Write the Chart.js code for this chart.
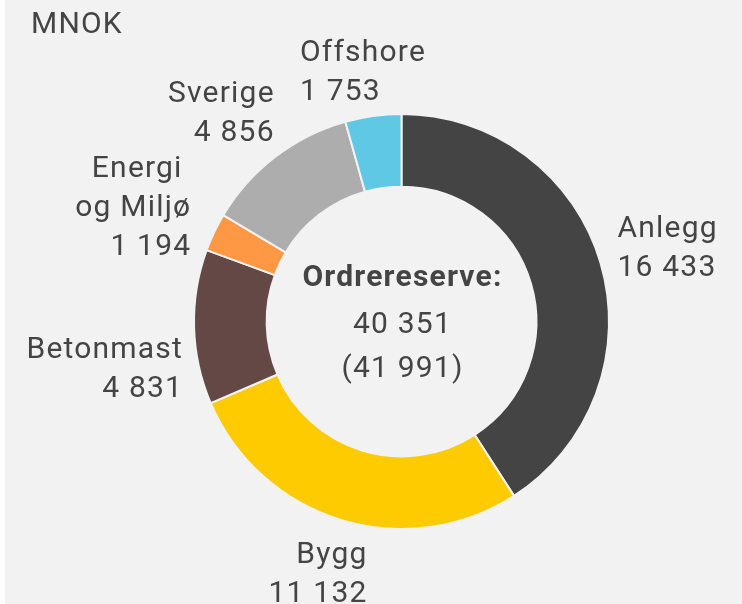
<!DOCTYPE html>
<html>
<head>
<meta charset="utf-8">
<script src="https://cdn.jsdelivr.net/npm/chart.js@4.4.1/dist/chart.umd.min.js"></script>
<style>
  html, body { margin: 0; padding: 0; background: #ffffff; }
  #wrap { position: absolute; left: 5px; top: 0; width: 737px; height: 604px; background: #f2f2f2; }
</style>
</head>
<body>
<div id="wrap"><canvas id="orderChart" width="737" height="604"></canvas></div>
<script>
// ===== Data =====
const segments = ["Anlegg", "Bygg", "Betonmast", "Energi og Miljø", "Sverige", "Offshore"];
const labelLines = [["Anlegg"], ["Bygg"], ["Betonmast"], ["Energi ", "og Miljø"], ["Sverige"], ["Offshore"]];
const backlog = [16433, 11132, 4831, 1194, 4856, 1753];
const backlogTotal = 40351;
const backlogPrev = 41991;
const unitLabel = "MNOK";
const centerTitle = "Ordrereserve:";

// ===== Styling =====
const sliceColors = ['#444444', '#fecb00', '#634846', '#ff9844', '#adadad', '#5ec8e5'];
const bgColor = '#f2f2f2';
const textColor = '#444444';
const fontFamily = "Roboto, 'Noto Sans', sans-serif";
const spacing = '1.2px';

// label placement relative to the outer mid-point of each slice: [dx, dy of first baseline, align]
const labelNudge = [
    [16, -26, 'left'],
    [27, 42, 'right'],
    [-10, 31, 'right'],
    [-22, -55, 'right'],
    [0, -54, 'right'],
    [-73, -54, 'left']
];
const lineGap = 39;

const fmt = (n) => n.toString().replace(/\B(?=(\d{3})+(?!\d))/g, ' ');

// ===== Plugin: labels, centre text, unit =====
const textPlugin = {
    id: 'textPlugin',
    afterDatasetsDraw(chart) {
        const ctx = chart.ctx;
        const meta = chart.getDatasetMeta(0);
        ctx.save();
        ctx.fillStyle = textColor;
        ctx.textBaseline = 'alphabetic';
        ctx.letterSpacing = spacing;
        ctx.font = `30px ${fontFamily}`;

        meta.data.forEach((arc, i) => {
            const p = arc.getProps(['x', 'y', 'startAngle', 'endAngle', 'outerRadius'], true);
            const mid = (p.startAngle + p.endAngle) / 2;
            const r = p.outerRadius + 1;
            const ax = p.x + Math.cos(mid) * r;
            const ay = p.y + Math.sin(mid) * r;
            const [dx, dy, align] = labelNudge[i];
            ctx.textAlign = align;
            const lines = [...labelLines[i], fmt(backlog[i])];
            lines.forEach((ln, k) => ctx.fillText(ln, ax + dx, ay + dy + k * lineGap));
        });

        // centre
        const c = meta.data[0];
        ctx.textAlign = 'center';
        ctx.font = `bold 30px ${fontFamily}`;
        ctx.fillText(centerTitle, c.x + 1, c.y - 35.5);
        ctx.font = `30px ${fontFamily}`;
        ctx.fillText(fmt(backlogTotal), c.x + 1, c.y + 11.5);
        ctx.fillText(`(${fmt(backlogPrev)})`, c.x + 1, c.y + 55);

        // unit
        ctx.textAlign = 'left';
        ctx.fillText(unitLabel, 26, 33);
        ctx.restore();
    }
};

new Chart(document.getElementById('orderChart'), {
    type: 'doughnut',
    data: {
        labels: segments,
        datasets: [{
            data: backlog,
            backgroundColor: sliceColors,
            borderColor: bgColor,
            borderWidth: 2
        }]
    },
    options: {
        responsive: false,
        animation: false,
        cutout: '65%',
        layout: { padding: { left: 188, right: 132, top: 113, bottom: 74 } },
        plugins: { legend: { display: false }, tooltip: { enabled: false } }
    },
    plugins: [textPlugin]
});
</script>
</body>
</html>
